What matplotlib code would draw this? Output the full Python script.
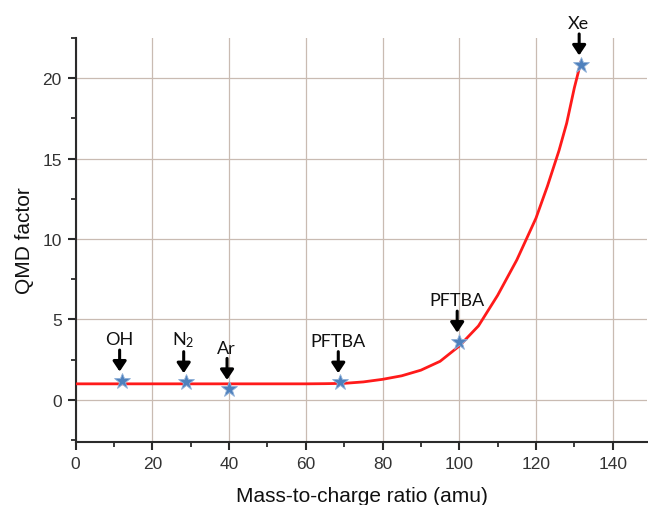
import matplotlib
matplotlib.use("Agg")
import matplotlib.pyplot as plt
from matplotlib.ticker import MultipleLocator
from matplotlib.transforms import offset_copy

# Fitted curve
curve_x = [0, 60, 65, 70, 75, 80, 85, 90, 95, 100, 105, 110, 115, 120,
           123, 126, 128, 130, 131.7]
curve_y = [1.0, 1.0, 1.01, 1.03, 1.12, 1.28, 1.5, 1.85, 2.4, 3.35, 4.6, 6.5, 8.7, 11.3,
           13.3, 15.5, 17.2, 19.4, 21.0]

# Measured points
point_labels = ["OH", "N$_2$", "Ar", "PFTBA", "PFTBA", "Xe"]
point_x = [12, 28.7, 40, 69, 100.0, 131.8]
point_y = [1.2, 1.1, 0.68, 1.1, 3.62, 20.85]

xticks = [0, 20, 40, 60, 80, 100, 120, 140]
yticks = [0, 5, 10, 15, 20]

plt.rcParams['font.family'] = ['Liberation Sans', 'DejaVu Sans']
plt.rcParams['mathtext.default'] = 'regular'

fig = plt.figure(figsize=(6.48, 5.06), dpi=100)
ax = fig.add_axes([0.1168, 0.125, 0.882, 0.798])

ax.plot(curve_x, curve_y, color='#ff1a1a', lw=2, zorder=3, solid_joinstyle='round')
ax.plot(point_x, point_y, linestyle='none', marker='*', markersize=12,
        markerfacecolor='#4f81bd', markeredgecolor='#8fb0d8', markeredgewidth=0.6, zorder=4)

for lab, x, y in zip(point_labels, point_x, point_y):
    tip = offset_copy(ax.transData, fig=fig, x=-1.5, y=6.5, units='points')
    tail = offset_copy(ax.transData, fig=fig, x=-1.5, y=22, units='points')
    ax.annotate('', xy=(x, y), xycoords=tip, xytext=(x, y), textcoords=tail,
                arrowprops=dict(arrowstyle='-|>,head_width=0.4,head_length=0.6',
                                color='black', lw=2.2, shrinkA=0, shrinkB=0,
                                mutation_scale=10), zorder=5)
    lbl = offset_copy(ax.transData, fig=fig, x=-2, y=24, units='points')
    ax.text(x, y, lab, transform=lbl, ha='center', va='bottom', fontsize=13,
            family=['Lato', 'DejaVu Sans'], color='#111111')

ax.set_xlim(0, 149)
ax.set_ylim(-2.6, 22.5)
ax.set_xticks(xticks)
ax.set_yticks(yticks)
ax.xaxis.set_minor_locator(MultipleLocator(10))
ax.yaxis.set_minor_locator(MultipleLocator(2.5))

ax.grid(True, which='major', color='#c9bbb2', lw=0.9)
ax.set_axisbelow(True)

for s in ['top', 'right']:
    ax.spines[s].set_visible(False)
for s in ['left', 'bottom']:
    ax.spines[s].set_color('#2b2b2b')
    ax.spines[s].set_linewidth(1.5)

ax.tick_params(which='major', direction='out', length=6, width=1.5, color='#2b2b2b',
               labelsize=12.5, labelcolor='#333333', pad=4)
ax.tick_params(which='minor', direction='out', length=3.5, width=1.3, color='#2b2b2b')

ax.set_xlabel('Mass-to-charge ratio (amu)', fontsize=15, color='#111111', labelpad=11)
ax.set_ylabel('QMD factor', fontsize=15, color='#111111', labelpad=6)

fig.savefig('out.png', dpi=100)
